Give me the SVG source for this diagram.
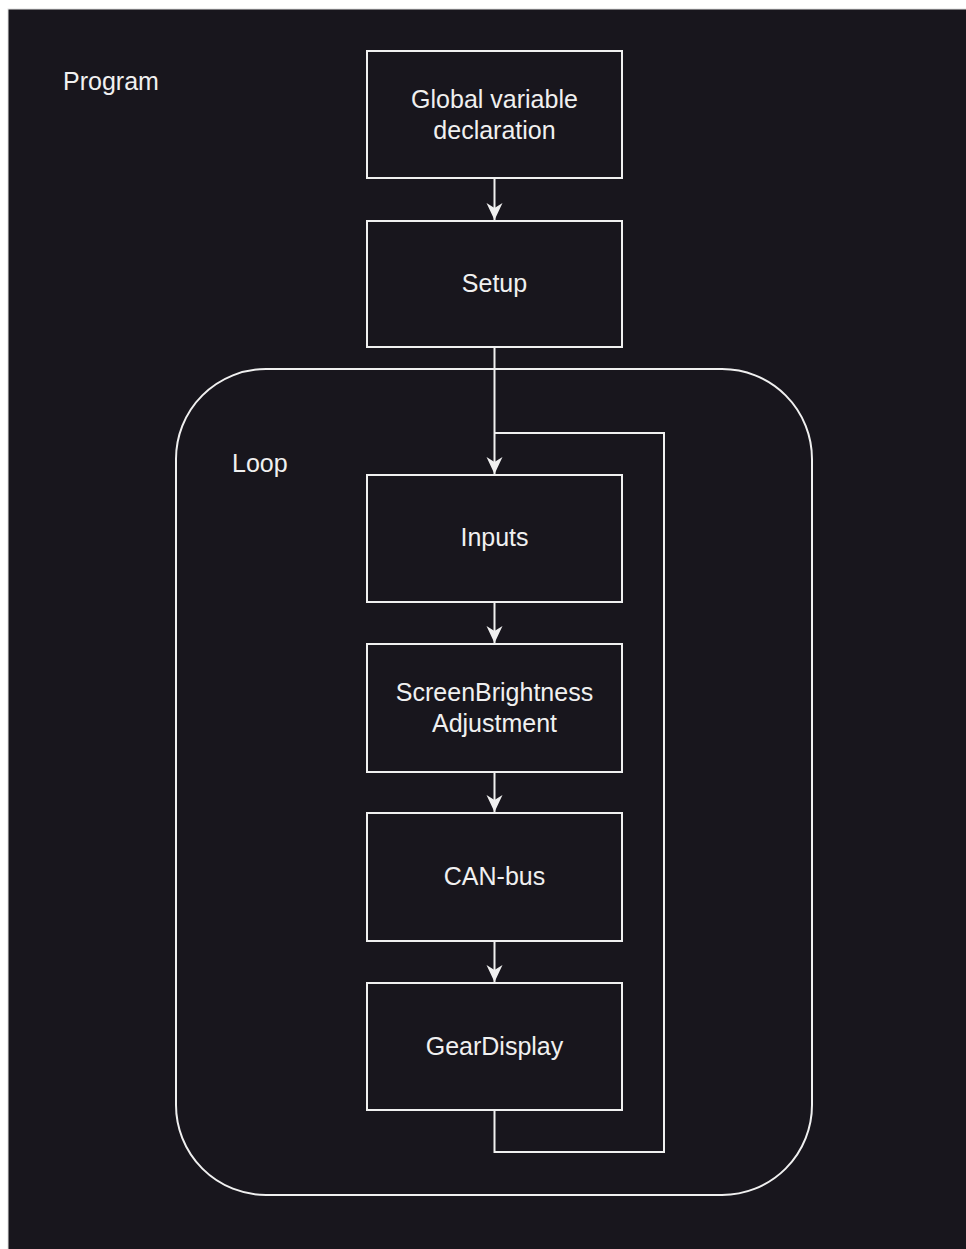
<svg xmlns="http://www.w3.org/2000/svg" width="966" height="1249" viewBox="0 0 966 1249">
<defs>
<style>
.box{fill:#18161d;stroke:#f0f0f0;stroke-width:2}
.t{font-family:"Liberation Sans",Arial,sans-serif;font-size:25px;fill:#f0f0f0;text-anchor:middle}
.tl{font-family:"Liberation Sans",Arial,sans-serif;font-size:25px;fill:#f0f0f0}
.c{fill:none;stroke:#f0f0f0;stroke-width:2}
</style>
<marker id="arr" markerWidth="20" markerHeight="20" viewBox="-18 -10 20 20" refX="0" refY="0" orient="auto" markerUnits="userSpaceOnUse">
<path d="M0,0 L-17,-8 L-12,0 L-17,8 Z" fill="#f0f0f0"/>
</marker>
</defs>
<rect x="0" y="0" width="966" height="1249" fill="#ffffff"/>
<rect x="8" y="9" width="970" height="1250" fill="#18161d" stroke="#e0e0e0" stroke-width="1"/>
<g id="program-label"><text class="tl" x="63" y="90">Program</text></g>
<g id="loop"><rect x="176" y="369" width="636" height="826" rx="90" ry="90" fill="none" stroke="#f0f0f0" stroke-width="2"/><text class="tl" x="232" y="472">Loop</text></g>
<g id="connectors">
<line class="c" x1="494.5" y1="178" x2="494.5" y2="220" marker-end="url(#arr)"/>
<line class="c" x1="494.5" y1="347" x2="494.5" y2="474" marker-end="url(#arr)"/>
<line class="c" x1="494.5" y1="602" x2="494.5" y2="643" marker-end="url(#arr)"/>
<line class="c" x1="494.5" y1="772" x2="494.5" y2="812" marker-end="url(#arr)"/>
<line class="c" x1="494.5" y1="941" x2="494.5" y2="982" marker-end="url(#arr)"/>
<polyline class="c" points="494.5,1110 494.5,1152 664,1152 664,433 494.5,433"/>
</g>
<g id="global"><rect class="box" x="367" y="51" width="255" height="127"/><text class="t" x="494.5" y="108">Global variable</text><text class="t" x="494.5" y="139">declaration</text></g>
<g id="setup"><rect class="box" x="367" y="221" width="255" height="126"/><text class="t" x="494.5" y="292">Setup</text></g>
<g id="inputs"><rect class="box" x="367" y="475" width="255" height="127"/><text class="t" x="494.5" y="546">Inputs</text></g>
<g id="screen"><rect class="box" x="367" y="644" width="255" height="128"/><text class="t" x="494.5" y="701">ScreenBrightness</text><text class="t" x="494.5" y="732">Adjustment</text></g>
<g id="canbus"><rect class="box" x="367" y="813" width="255" height="128"/><text class="t" x="494.5" y="885">CAN-bus</text></g>
<g id="gear"><rect class="box" x="367" y="983" width="255" height="127"/><text class="t" x="494.5" y="1055">GearDisplay</text></g>
</svg>
